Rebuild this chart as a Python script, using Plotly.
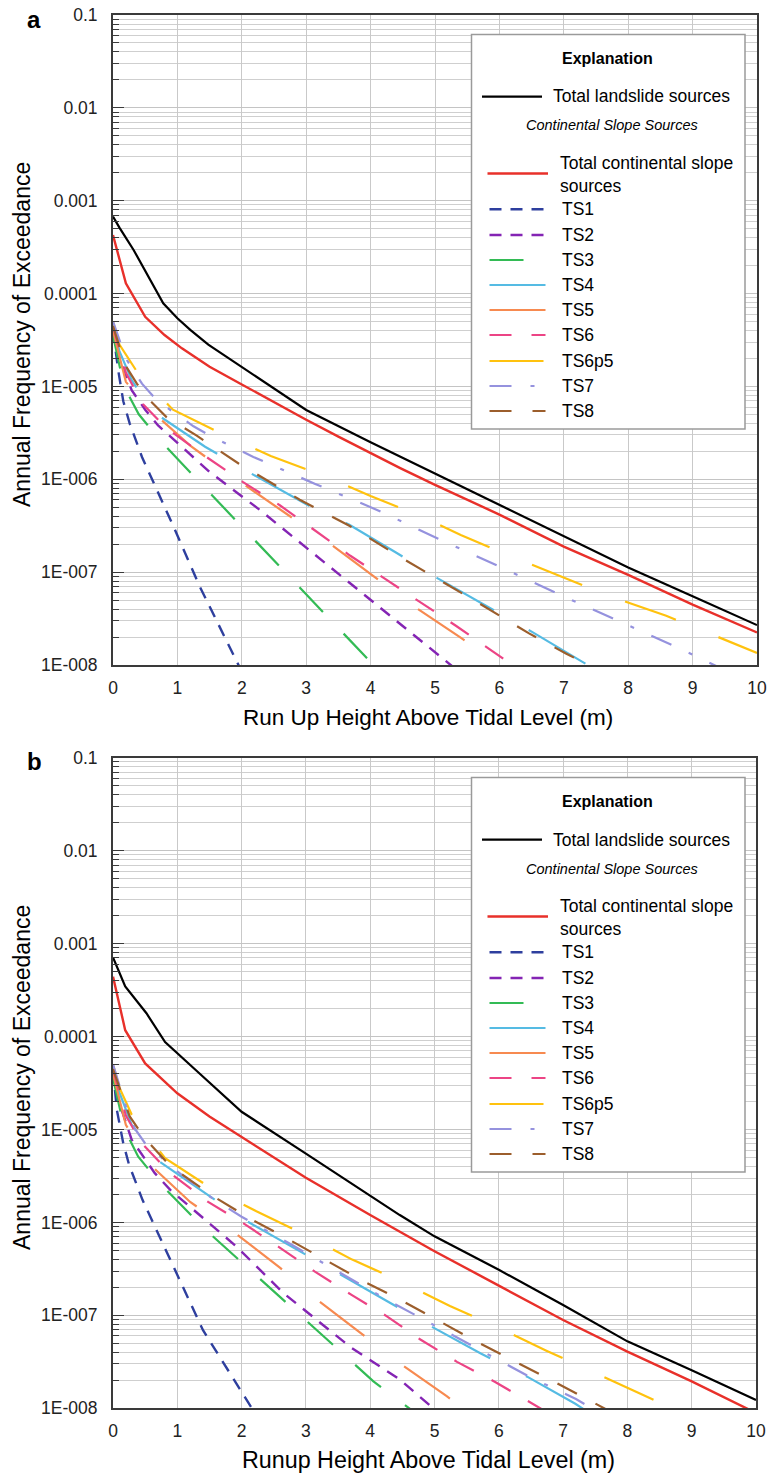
import plotly.graph_objects as go

# ---------------- data : panel a (Run Up) ----------------
A_TOTAL_X = [0, 0.1, 0.32, 0.52, 0.78, 1.0, 1.2, 1.48, 2.0, 2.5, 3.0, 4.0, 5.0, 6.0, 7.0, 8.0, 9.0, 10.0]
A_TOTAL_Y = [6.76e-4, 5.13e-4, 2.95e-4, 1.66e-4, 7.85e-5, 5.42e-5, 4.07e-5, 2.82e-5, 1.62e-5, 9.33e-6,
             5.57e-6, 2.51e-6, 1.15e-6, 5.25e-7, 2.40e-7, 1.12e-7, 5.50e-8, 2.69e-8]
A_SLOPE_X = [0, 0.2, 0.5, 0.8, 1.07, 1.5, 2.0, 2.5, 3.0, 3.5, 4.0, 4.46, 5.0, 6.0, 7.0, 8.0, 9.0, 10.0]
A_SLOPE_Y = [4.27e-4, 1.29e-4, 5.62e-5, 3.58e-5, 2.57e-5, 1.63e-5, 1.05e-5, 6.76e-6, 4.37e-6, 2.88e-6,
             1.91e-6, 1.32e-6, 8.71e-7, 4.17e-7, 1.88e-7, 9.33e-8, 4.47e-8, 2.24e-8]
A_TS1_X = [0, 0.08, 0.16, 0.26, 0.45, 0.94, 1.35, 1.95, 2.05]
A_TS1_Y = [3.98e-5, 1.51e-5, 6.92e-6, 3.98e-6, 1.74e-6, 3.09e-7, 6.92e-8, 1.0e-8, 7.2e-9]
A_TS2_X = [0, 0.1, 0.29, 0.5, 0.7, 0.95, 1.5, 2.28, 3.42, 4.35, 5.13, 5.3]
A_TS2_Y = [4.47e-5, 2.0e-5, 9.12e-6, 5.62e-6, 3.80e-6, 2.63e-6, 1.20e-6, 4.68e-7, 1.07e-7, 3.24e-8, 1.17e-8, 9.3e-9]
A_TS3_X = [0, 0.17, 0.4, 0.73, 1.08, 1.41, 1.79, 2.36, 3.06, 3.78, 4.1]
A_TS3_Y = [3.55e-5, 1.0e-5, 5.01e-6, 2.63e-6, 1.45e-6, 8.32e-7, 4.47e-7, 1.70e-7, 5.25e-8, 1.55e-8, 9.1e-9]
A_TS4_X = [0, 0.1, 0.29, 0.5, 0.7, 1.43, 2.15, 3.03, 3.67, 4.4, 5.05, 5.8, 6.5, 7.25, 7.45]
A_TS4_Y = [4.47e-5, 2.40e-5, 1.17e-5, 7.08e-6, 4.90e-6, 2.24e-6, 1.15e-6, 5.25e-7, 3.24e-7, 1.62e-7,
           8.51e-8, 4.27e-8, 2.29e-8, 1.12e-8, 9.3e-9]
A_TS5_X = [0, 0.2, 0.52, 1.22, 2.0, 2.7, 3.4, 4.06, 4.72, 5.41, 6.05]
A_TS5_Y = [3.98e-5, 1.12e-5, 6.03e-6, 2.24e-6, 9.12e-7, 4.17e-7, 1.95e-7, 8.91e-8, 4.07e-8, 1.95e-8, 9.5e-9]
A_TS6_X = [0, 0.2, 0.45, 0.83, 1.45, 2.02, 2.59, 3.14, 3.68, 4.22, 4.78, 5.33, 5.89, 6.25]
A_TS6_Y = [4.47e-5, 1.41e-5, 6.61e-6, 3.55e-6, 1.74e-6, 9.33e-7, 5.25e-7, 2.82e-7, 1.51e-7, 8.51e-8,
           4.68e-8, 2.63e-8, 1.41e-8, 9.5e-9]
A_TS6P5_X = [0, 0.1, 0.37, 0.93, 1.69, 2.45, 3.26, 4.0, 4.76, 5.4, 6.18, 6.94, 7.72, 8.59, 9.37, 10.0]
A_TS6P5_Y = [5.01e-5, 2.82e-5, 1.45e-5, 5.62e-6, 3.09e-6, 1.78e-6, 1.10e-6, 6.61e-7, 4.07e-7, 2.51e-7,
             1.48e-7, 9.12e-8, 5.50e-8, 3.39e-8, 2.04e-8, 1.35e-8]
A_TS7_X = [0, 0.2, 0.45, 0.68, 1.25, 1.53, 2.18, 3.14, 4.1, 5.05, 6.0, 6.96, 7.9, 8.85, 9.4]
A_TS7_Y = [5.01e-5, 2.0e-5, 1.07e-5, 7.08e-6, 3.72e-6, 2.88e-6, 1.74e-6, 8.91e-7, 4.68e-7, 2.29e-7,
           1.15e-7, 5.62e-8, 2.88e-8, 1.45e-8, 9.5e-9]
A_TS8_X = [0, 0.19, 0.37, 0.57, 0.83, 1.3, 1.95, 2.9, 3.67, 4.49, 5.6, 6.46, 7.04, 7.45]
A_TS8_Y = [4.47e-5, 1.70e-5, 1.07e-5, 7.08e-6, 4.68e-6, 2.95e-6, 1.48e-6, 6.03e-7, 3.16e-7, 1.41e-7,
           5.01e-8, 2.19e-8, 1.32e-8, 9.5e-9]

# ---------------- data : panel b (Runup) ----------------
B_TOTAL_X = [0, 0.19, 0.52, 0.81, 1.35, 2.0, 3.0, 4.0, 4.46, 5.0, 6.0, 7.0, 8.0, 9.0, 10.0]
B_TOTAL_Y = [7.08e-4, 3.47e-4, 1.78e-4, 8.71e-5, 3.98e-5, 1.55e-5, 5.50e-6, 1.95e-6, 1.20e-6, 7.08e-7,
             3.09e-7, 1.29e-7, 5.25e-8, 2.57e-8, 1.23e-8]
B_SLOPE_X = [0, 0.19, 0.5, 1.0, 1.5, 2.0, 3.0, 4.0, 4.46, 5.0, 6.0, 7.0, 8.0, 9.0, 10.0]
B_SLOPE_Y = [4.41e-4, 1.17e-4, 5.13e-5, 2.45e-5, 1.38e-5, 8.32e-6, 3.02e-6, 1.20e-6, 7.94e-7, 4.90e-7,
             2.09e-7, 8.91e-8, 4.07e-8, 1.95e-8, 8.9e-9]
B_TS1_X = [0, 0.06, 0.16, 0.25, 0.46, 0.94, 1.4, 2.16, 2.3]
B_TS1_Y = [4.47e-5, 1.62e-5, 7.08e-6, 4.17e-6, 1.74e-6, 3.31e-7, 6.92e-8, 1.0e-8, 7.1e-9]
B_TS2_X = [0, 0.1, 0.29, 0.65, 0.89, 1.92, 2.65, 3.69, 4.46, 4.98, 5.1]
B_TS2_Y = [4.47e-5, 1.91e-5, 7.76e-6, 3.39e-6, 2.24e-6, 5.50e-7, 1.74e-7, 4.57e-8, 2.04e-8, 1.0e-8, 8.5e-9]
B_TS3_X = [0, 0.18, 0.39, 0.73, 1.41, 2.16, 2.91, 3.66, 4.05, 4.65]
B_TS3_Y = [3.55e-5, 1.0e-5, 5.13e-6, 2.63e-6, 8.71e-7, 2.95e-7, 1.0e-7, 3.47e-8, 1.95e-8, 9.5e-9]
B_TS4_X = [0, 0.1, 0.29, 0.73, 1.4, 2.06, 3.11, 4.28, 4.95, 5.72, 6.44, 7.19, 7.35]
B_TS4_Y = [4.47e-5, 2.51e-5, 1.12e-5, 4.47e-6, 2.14e-6, 1.05e-6, 4.07e-7, 1.41e-7, 7.59e-8, 3.89e-8,
           2.19e-8, 1.12e-8, 9.5e-9]
B_TS5_X = [0, 0.2, 0.58, 1.2, 1.93, 2.6, 3.17, 3.84, 4.49, 5.19, 5.5]
B_TS5_Y = [3.98e-5, 1.12e-5, 4.17e-6, 1.66e-6, 7.41e-7, 3.24e-7, 1.48e-7, 6.46e-8, 2.95e-8, 1.35e-8, 9.3e-9]
B_TS6_X = [0, 0.2, 0.45, 0.89, 1.48, 2.03, 2.57, 3.14, 3.71, 4.26, 4.78, 5.35, 5.95, 6.7]
B_TS6_Y = [4.47e-5, 1.41e-5, 7.08e-6, 3.39e-6, 1.66e-6, 9.77e-7, 5.50e-7, 2.95e-7, 1.66e-7, 9.77e-8,
           5.50e-8, 3.16e-8, 1.91e-8, 9.5e-9]
B_TS6P5_X = [0, 0.1, 0.29, 0.81, 1.5, 2.23, 2.98, 3.72, 4.49, 5.24, 5.99, 6.74, 7.5, 8.25, 8.8]
B_TS6P5_Y = [5.01e-5, 2.82e-5, 1.45e-5, 4.90e-6, 2.40e-6, 1.32e-6, 7.41e-7, 3.98e-7, 2.29e-7, 1.26e-7,
             7.41e-8, 4.17e-8, 2.40e-8, 1.38e-8, 9.3e-9]
B_TS7_X = [0, 0.2, 0.34, 0.5, 1.0, 1.5, 2.0, 2.78, 3.45, 4.36, 4.98, 5.89, 6.5, 7.2, 7.5]
B_TS7_Y = [5.01e-5, 1.78e-5, 1.02e-5, 7.08e-6, 3.55e-6, 1.91e-6, 1.15e-6, 5.75e-7, 3.09e-7, 1.35e-7,
           7.94e-8, 3.63e-8, 2.14e-8, 1.26e-8, 9.5e-9]
B_TS8_X = [0, 0.26, 0.5, 0.9, 1.56, 2.13, 2.7, 3.3, 3.89, 4.46, 5.06, 5.65, 6.23, 6.82, 7.7]
B_TS8_Y = [4.47e-5, 1.38e-5, 7.94e-6, 3.98e-6, 1.91e-6, 1.10e-6, 6.76e-7, 3.98e-7, 2.34e-7, 1.48e-7,
           8.71e-8, 5.25e-8, 3.24e-8, 2.0e-8, 9.5e-9]

SERIES_NAMES = ["Total landslide sources", "Total continental slope sources",
                "TS1", "TS2", "TS3", "TS4", "TS5", "TS6", "TS6p5", "TS7", "TS8"]
Y_TICK_VALUES = [1e-8, 1e-7, 1e-6, 1e-5, 1e-4, 1e-3, 1e-2, 1e-1]
Y_TICK_LABELS = ["1E-008", "1E-007", "1E-006", "1E-005", "0.0001", "0.001", "0.01", "0.1"]
X_TICK_VALUES = [0, 1, 2, 3, 4, 5, 6, 7, 8, 9, 10]
X_TITLES = ["Run Up Height Above Tidal Level (m)", "Runup Height Above Tidal Level (m)"]
Y_TITLE = "Annual Frequency of Exceedance"
PANEL_LETTERS = ["a", "b"]

PANEL_A = [(A_TOTAL_X, A_TOTAL_Y), (A_SLOPE_X, A_SLOPE_Y), (A_TS1_X, A_TS1_Y), (A_TS2_X, A_TS2_Y),
           (A_TS3_X, A_TS3_Y), (A_TS4_X, A_TS4_Y), (A_TS5_X, A_TS5_Y), (A_TS6_X, A_TS6_Y),
           (A_TS6P5_X, A_TS6P5_Y), (A_TS7_X, A_TS7_Y), (A_TS8_X, A_TS8_Y)]
PANEL_B = [(B_TOTAL_X, B_TOTAL_Y), (B_SLOPE_X, B_SLOPE_Y), (B_TS1_X, B_TS1_Y), (B_TS2_X, B_TS2_Y),
           (B_TS3_X, B_TS3_Y), (B_TS4_X, B_TS4_Y), (B_TS5_X, B_TS5_Y), (B_TS6_X, B_TS6_Y),
           (B_TS6P5_X, B_TS6P5_Y), (B_TS7_X, B_TS7_Y), (B_TS8_X, B_TS8_Y)]

# ---------------- styles ----------------
STYLE = {
    "Total landslide sources": ("#000000", "solid", 2.2),
    "Total continental slope sources": ("#E8302A", "solid", 2.4),
    "TS1": ("#2E3F9E", "12px,9px", 2.4),
    "TS2": ("#8424B4", "12px,9px", 2.4),
    "TS3": ("#33BB55", "34px,30px", 2.2),
    "TS4": ("#55BBE3", "66px,40px", 2.2),
    "TS5": ("#F78A50", "56px,50px", 2.2),
    "TS6": ("#EC4485", "22px,20px", 2.2),
    "TS6p5": ("#FFC20E", "54px,46px", 2.2),
    "TS7": ("#9592DE", "22px,19px,4px,19px", 2.2),
    "TS8": ("#9C5E2C", "22px,21px", 2.2),
}

W, H = 769, 1475
FONT = "Liberation Sans, Arial, sans-serif"


def pxx(x):
    return x / W


def pyy(y):
    return 1 - y / H


fig = go.Figure()

for pi, panel in enumerate([PANEL_A, PANEL_B]):
    xa = "x" if pi == 0 else "x2"
    ya = "y" if pi == 0 else "y2"
    order = list(range(2, len(SERIES_NAMES))) + [1, 0]
    for si in order:
        name = SERIES_NAMES[si]
        xs, ys = panel[si]
        col, dash, wid = STYLE[name]
        fig.add_trace(go.Scatter(x=xs, y=ys, mode="lines", name=name, xaxis=xa, yaxis=ya,
                                 line=dict(color=col, dash=dash, width=wid),
                                 showlegend=False, hoverinfo="skip"))

PLOT_L, PLOT_R = 113, 757
TOPS = [(15, 665), (757.7, 1408.3)]

axis_common_x = dict(range=[0, 10], tickvals=X_TICK_VALUES, showgrid=True, gridcolor="#c9c9c9",
                     gridwidth=1, showline=True, linecolor="#3a3a3a", linewidth=2, mirror=True,
                     ticks="", zeroline=False, tickfont=dict(family=FONT, size=17.5, color="#222"),
                     ticklabelstandoff=6, automargin=False)
axis_common_y = dict(type="log", range=[-8, -1], tickvals=Y_TICK_VALUES, ticktext=Y_TICK_LABELS,
                     showgrid=True, gridcolor="#c4c4c4", gridwidth=1, showline=True,
                     linecolor="#3a3a3a", linewidth=2, mirror=True, ticks="inside", ticklen=11,
                     tickcolor="#3a3a3a", tickwidth=1.2, zeroline=False, automargin=False,
                     tickfont=dict(family=FONT, size=17.5, color="#222"), ticklabelstandoff=10,
                     minor=dict(dtick="D1", showgrid=True, gridcolor="#cfcfcf", gridwidth=1,
                                ticks="inside", ticklen=6, tickcolor="#3a3a3a", tickwidth=1))

fig.update_layout(
    template="none",
    xaxis=dict(domain=[pxx(PLOT_L), pxx(PLOT_R)], anchor="y", **axis_common_x),
    yaxis=dict(domain=[pyy(TOPS[0][1]), pyy(TOPS[0][0])], anchor="x", **axis_common_y),
    xaxis2=dict(domain=[pxx(PLOT_L), pxx(PLOT_R - 1)], anchor="y2", **axis_common_x),
    yaxis2=dict(domain=[pyy(TOPS[1][1]), pyy(TOPS[1][0])], anchor="x2", **axis_common_y),
)

annotations = []
shapes = []

X_TITLE_SIZES = [22.5, 23.3]
for pi in range(2):
    top, bot = TOPS[pi]
    annotations.append(dict(text="<b>%s</b>" % PANEL_LETTERS[pi], x=pxx(34), y=pyy(top + 4),
                            xref="paper", yref="paper", showarrow=False, xanchor="center",
                            yanchor="middle", font=dict(family=FONT, size=24, color="#000")))
    annotations.append(dict(text=X_TITLES[pi], x=pxx(428), y=pyy(bot + 52), xref="paper",
                            yref="paper", showarrow=False, xanchor="center", yanchor="middle",
                            font=dict(family=FONT, size=X_TITLE_SIZES[pi], color="#000")))
    annotations.append(dict(text=Y_TITLE, x=pxx(22), y=pyy((top + bot) / 2 - 5), xref="paper",
                            yref="paper", showarrow=False, xanchor="center", yanchor="middle",
                            textangle=-90, font=dict(family=FONT, size=23, color="#000")))

LEG_ROWS_Y = [209.3, 235, 260, 285, 310, 335, 361, 386, 411]
for pi, dy in enumerate([0, 743]):
    shapes.append(dict(type="rect", xref="paper", yref="paper", x0=pxx(471.5), x1=pxx(745),
                       y0=pyy(34.5 + dy), y1=pyy(429 + dy), line=dict(color="#9a9a9a", width=1.5),
                       fillcolor="white", layer="above"))
    annotations.append(dict(text="<b>Explanation</b>", x=pxx(607), y=pyy(58 + dy), xref="paper",
                            yref="paper", showarrow=False, xanchor="center", yanchor="middle",
                            font=dict(family=FONT, size=16, color="#000")))
    col, dash, wid = STYLE[SERIES_NAMES[0]]
    shapes.append(dict(type="line", xref="paper", yref="paper", x0=pxx(482), x1=pxx(542),
                       y0=pyy(96.7 + dy), y1=pyy(96.7 + dy), line=dict(color=col, width=wid, dash=dash),
                       layer="above"))
    annotations.append(dict(text=SERIES_NAMES[0], x=pxx(551), y=pyy(96.5 + dy), xref="paper",
                            yref="paper", showarrow=False, xanchor="left", yanchor="middle",
                            font=dict(family=FONT, size=17.5, color="#000")))
    annotations.append(dict(text="<i>Continental Slope Sources</i>", x=pxx(612), y=pyy(125.5 + dy),
                            xref="paper", yref="paper", showarrow=False, xanchor="center",
                            yanchor="middle", font=dict(family=FONT, size=14.5, color="#000")))
    col, dash, wid = STYLE[SERIES_NAMES[1]]
    shapes.append(dict(type="line", xref="paper", yref="paper", x0=pxx(487.5), x1=pxx(548),
                       y0=pyy(173.5 + dy), y1=pyy(173.5 + dy),
                       line=dict(color=col, width=wid, dash=dash), layer="above"))
    annotations.append(dict(text="Total continental slope<br>sources", x=pxx(558), y=pyy(174 + dy),
                            xref="paper", yref="paper", showarrow=False, xanchor="left",
                            yanchor="middle", align="left",
                            font=dict(family=FONT, size=17.5, color="#000")))
    for k, name in enumerate(SERIES_NAMES[2:]):
        col, dash, wid = STYLE[name]
        yy = LEG_ROWS_Y[k] + dy
        shapes.append(dict(type="line", xref="paper", yref="paper", x0=pxx(489.5), x1=pxx(545.5),
                           y0=pyy(yy), y1=pyy(yy), line=dict(color=col, width=wid, dash=dash),
                           layer="above"))
        annotations.append(dict(text=name, x=pxx(559.5), y=pyy(yy), xref="paper", yref="paper",
                                showarrow=False, xanchor="left", yanchor="middle",
                                font=dict(family=FONT, size=17.5, color="#000")))

fig.update_layout(
    width=W, height=H, margin=dict(l=0, r=0, t=0, b=0, pad=0, autoexpand=False),
    paper_bgcolor="white", plot_bgcolor="white",
    font=dict(family=FONT, size=16, color="#000"),
    showlegend=False, annotations=annotations, shapes=shapes,
)

fig.write_html("out.html",
               post_script="document.body.style.margin='0px';document.body.style.overflow='hidden';")
